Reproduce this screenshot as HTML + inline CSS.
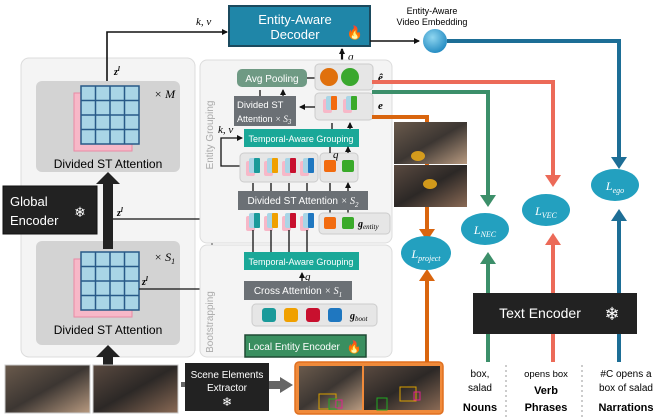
<!DOCTYPE html>
<html><head><meta charset="utf-8"><style>
html,body{margin:0;padding:0;background:#fff;}
svg{display:block;font-family:"Liberation Sans",sans-serif;}
.s{font-family:"Liberation Serif",serif;font-style:italic;}
</style></head><body>
<svg width="665" height="418" viewBox="0 0 665 418" xmlns="http://www.w3.org/2000/svg">
<defs>
<marker id="ab" markerWidth="6" markerHeight="6" refX="5" refY="3" orient="auto" markerUnits="userSpaceOnUse"><path d="M0,0 L6,3 L0,6z" fill="#111"/></marker>
<linearGradient id="img1" x1="0" y1="0" x2="1" y2="1"><stop offset="0" stop-color="#6a5a4c"/><stop offset="0.5" stop-color="#3c3632"/><stop offset="1" stop-color="#b89a80"/></linearGradient>
<linearGradient id="img2" x1="0" y1="0" x2="1" y2="1"><stop offset="0" stop-color="#5a4a40"/><stop offset="0.5" stop-color="#2c2826"/><stop offset="1" stop-color="#8a6a55"/></linearGradient>
<radialGradient id="ball" cx="0.4" cy="0.35" r="0.7"><stop offset="0" stop-color="#8fd6f0"/><stop offset="1" stop-color="#1f88c0"/></radialGradient>
<g id="grid">
<rect x="-7" y="7" width="58" height="58" fill="#f7b8c8" stroke="#e88aa5" stroke-width="1"/>
<rect x="0" y="0" width="58" height="58" fill="#a9d5e6" stroke="#285a88" stroke-width="1.5"/>
<path d="M14.5,0V58M29,0V58M43.5,0V58M0,14.5H58M0,29H58M0,43.5H58" stroke="#285a88" stroke-width="1.5"/>
</g>
</defs>

<rect x="21" y="58" width="174" height="299" rx="8" fill="#f4f4f4" stroke="#dcdcdc"/>
<rect x="36" y="81" width="144" height="91" rx="6" fill="#d3d3d3"/>
<use href="#grid" x="81" y="86"/>
<text x="154" y="98" class="s" font-size="12">× M</text>
<text x="108" y="168" font-size="12" text-anchor="middle">Divided ST Attention</text>
<rect x="36" y="241" width="144" height="104" rx="6" fill="#d3d3d3"/>
<use href="#grid" x="81" y="252"/>
<text x="154" y="261" class="s" font-size="12">× S<tspan font-size="8" dy="3">1</tspan></text>
<text x="108" y="334" font-size="12" text-anchor="middle">Divided ST Attention</text>

<rect x="3" y="186" width="94" height="48" fill="#222" stroke="#111"/>
<text x="10" y="206" font-size="13" fill="#fff">Global</text>
<text x="10" y="225" font-size="13" fill="#fff">Encoder</text>
<text x="80" y="217" font-size="14" fill="#fff" text-anchor="middle">❄</text>

<rect x="103" y="183" width="10" height="66" fill="#222"/>
<path d="M96,184 L108,172 L120,184z" fill="#222"/>
<rect x="103" y="356" width="10" height="10" fill="#222"/>
<path d="M96,357 L108,345 L120,357z" fill="#222"/>

<path d="M107,81 V32 H227" stroke="#111" stroke-width="1.6" fill="none" marker-end="url(#ab)"/>
<text x="114" y="75" class="s" font-size="10" font-weight="bold">z<tspan font-size="7" dy="-4">l</tspan></text>
<text x="196" y="25" class="s" font-size="11">k, v</text>
<path d="M113,219 H212 V262 H242" stroke="#111" stroke-width="1.3" fill="none" marker-end="url(#ab)"/>
<text x="117" y="216" class="s" font-size="10" font-weight="bold">z<tspan font-size="7" dy="-4">l</tspan></text>
<text x="217" y="259" class="s" font-size="11">k, v</text>
<path d="M139,289 H242" stroke="#111" stroke-width="1.3" fill="none" marker-end="url(#ab)"/>
<text x="142" y="285" class="s" font-size="10" font-weight="bold">z<tspan font-size="7" dy="-4">l</tspan></text>
<text x="217" y="286" class="s" font-size="11">k, v</text>

<rect x="229" y="6" width="141" height="40" fill="#1f86a8" stroke="#1b4a5e" stroke-width="2"/>
<text x="295" y="24" font-size="13" fill="#fff" text-anchor="middle">Entity-Aware</text>
<text x="295" y="39" font-size="13" fill="#fff" text-anchor="middle">Decoder</text>
<text x="355" y="37" font-size="13" fill="#f25a1a" text-anchor="middle">🔥</text>
<path d="M370,41 H419" stroke="#111" stroke-width="1.6" fill="none" marker-end="url(#ab)"/>
<path d="M342,63 V49" stroke="#111" stroke-width="2.2" marker-end="url(#ab)"/>
<text x="348" y="60" class="s" font-size="11">q</text>

<rect x="200" y="60" width="192" height="183" rx="7" fill="#f4f4f4" stroke="#dcdcdc"/>
<rect x="200" y="245" width="192" height="112" rx="7" fill="#f4f4f4" stroke="#dcdcdc"/>
<text transform="translate(213,135) rotate(-90)" font-size="10" fill="#aaa" text-anchor="middle">Entity Grouping</text>
<text transform="translate(213,322) rotate(-90)" font-size="10" fill="#aaa" text-anchor="middle">Bootstrapping</text>

<rect x="237" y="69" width="70" height="18" rx="5" fill="#6f9a84"/>
<text x="272" y="82" font-size="10" fill="#fff" text-anchor="middle">Avg Pooling</text>
<path d="M307,78 H322" stroke="#111" stroke-width="1.3" marker-end="url(#ab)"/>
<rect x="315" y="64" width="58" height="26" rx="4" fill="#e6e6e6" stroke="#ccc"/>
<circle cx="329" cy="77" r="9" fill="#e0700c"/>
<circle cx="350" cy="77" r="9" fill="#3aa82e"/>
<text x="378" y="81" class="s" font-size="11" font-weight="bold" font-style="normal">ê</text>
<rect x="315" y="93" width="58" height="27" rx="4" fill="#e6e6e6" stroke="#ccc"/>
<g><rect x="323" y="99" width="9" height="14" rx="2" fill="#f7b8c8"/><rect x="326" y="96" width="9" height="14" rx="2" fill="#a9d5e6"/><rect x="331" y="96" width="6" height="14" rx="1" fill="#f26b0f"/></g>
<g><rect x="343" y="99" width="9" height="14" rx="2" fill="#f7b8c8"/><rect x="346" y="96" width="9" height="14" rx="2" fill="#a9d5e6"/><rect x="351" y="96" width="6" height="14" rx="1" fill="#3aaa2a"/></g>
<text x="378" y="109" class="s" font-size="11" font-weight="bold" font-style="normal">e</text>
<rect x="234" y="96" width="62" height="30" fill="#6b7075"/>
<text x="237" y="108" font-size="9.5" fill="#fff">Divided ST</text>
<text x="237" y="122" font-size="9" fill="#fff">Attention <tspan class="s">× S</tspan><tspan font-size="7" dy="2" class="s">3</tspan></text>
<path d="M315,107 H300" stroke="#111" stroke-width="1.3" marker-end="url(#ab)"/>
<path d="M260,96 V90 M283,96 V90" stroke="#111" stroke-width="1.3" marker-end="url(#ab)"/>
<path d="M332,129 V123 M350,129 V123" stroke="#111" stroke-width="1.3" marker-end="url(#ab)"/>
<rect x="244" y="129" width="115" height="18" fill="#1aa898"/>
<text x="301" y="142" font-size="9" fill="#fff" text-anchor="middle">Temporal-Aware Grouping</text>
<path d="M243,166 H221 V138 H242" stroke="#111" stroke-width="1.3" fill="none" marker-end="url(#ab)"/>
<text x="218" y="133" class="s" font-size="11">k, v</text>
<rect x="240" y="153" width="78" height="29" rx="4" fill="#e6e6e6" stroke="#ccc"/>
<rect x="320" y="153" width="38" height="29" rx="4" fill="#e6e6e6" stroke="#ccc"/>
<g id="toks">
<rect x="246" y="161" width="9" height="15" rx="2" fill="#f7b8c8"/><rect x="249" y="158" width="9" height="15" rx="2" fill="#a9d5e6"/><rect x="254" y="158" width="6" height="15" rx="1" fill="#1a9a9a"/>
<rect x="264" y="161" width="9" height="15" rx="2" fill="#f7b8c8"/><rect x="267" y="158" width="9" height="15" rx="2" fill="#a9d5e6"/><rect x="272" y="158" width="6" height="15" rx="1" fill="#f0a000"/>
<rect x="282" y="161" width="9" height="15" rx="2" fill="#f7b8c8"/><rect x="285" y="158" width="9" height="15" rx="2" fill="#a9d5e6"/><rect x="290" y="158" width="6" height="15" rx="1" fill="#c8102e"/>
<rect x="300" y="161" width="9" height="15" rx="2" fill="#f7b8c8"/><rect x="303" y="158" width="9" height="15" rx="2" fill="#a9d5e6"/><rect x="308" y="158" width="6" height="15" rx="1" fill="#1f77c0"/>
</g>
<rect x="324" y="160" width="12" height="12" rx="2" fill="#f26b0f"/>
<rect x="342" y="160" width="12" height="12" rx="2" fill="#3aaa2a"/>
<path d="M330,153 V147 M348,153 V147" stroke="#111" stroke-width="1.3" marker-end="url(#ab)"/>
<text x="333" y="158" class="s" font-size="11">q</text>
<path d="M253,191 V183 M271,191 V183 M289,191 V183 M307,191 V183 M330,191 V183 M348,191 V183" stroke="#111" stroke-width="1.3" marker-end="url(#ab)"/>
<rect x="238" y="191" width="130" height="19" fill="#6b7075"/>
<text x="303" y="204" font-size="10" fill="#fff" text-anchor="middle">Divided ST Attention <tspan class="s">× S</tspan><tspan font-size="7" dy="3" class="s">2</tspan></text>
<path d="M330,210 V216 M348,210 V216" stroke="#111" stroke-width="1.3"/>
<use href="#toks" y="55"/>
<rect x="319" y="213" width="71" height="21" rx="4" fill="#e6e6e6" stroke="#ccc"/>
<rect x="324" y="217" width="12" height="12" rx="2" fill="#f26b0f"/>
<rect x="342" y="217" width="12" height="12" rx="2" fill="#3aaa2a"/>
<text x="358" y="227" class="s" font-size="10" font-weight="bold" font-style="normal">g<tspan font-size="7" dy="2" font-style="italic" font-weight="normal">entity</tspan></text>
<path d="M253,230 V252 M271,230 V252 M289,230 V252 M307,230 V252" stroke="#111" stroke-width="1.3"/>

<rect x="244" y="252" width="115" height="18" fill="#1aa898"/>
<text x="301" y="265" font-size="9" fill="#fff" text-anchor="middle">Temporal-Aware Grouping</text>
<path d="M302,282 V273" stroke="#111" stroke-width="1.3" marker-end="url(#ab)"/>
<text x="305" y="280" class="s" font-size="11">q</text>
<rect x="244" y="281" width="108" height="19" fill="#6b7075"/>
<text x="298" y="294" font-size="10" fill="#fff" text-anchor="middle">Cross Attention <tspan class="s">× S</tspan><tspan font-size="7" dy="3" class="s">1</tspan></text>
<rect x="252" y="304" width="125" height="22" rx="4" fill="#e6e6e6" stroke="#ccc"/>
<rect x="262" y="308" width="14" height="14" rx="3" fill="#1a9a9a"/>
<rect x="284" y="308" width="14" height="14" rx="3" fill="#f0a000"/>
<rect x="306" y="308" width="14" height="14" rx="3" fill="#c8102e"/>
<rect x="328" y="308" width="14" height="14" rx="3" fill="#1f77c0"/>
<text x="350" y="319" class="s" font-size="10" font-weight="bold" font-style="normal">g<tspan font-size="7" dy="2" font-style="italic" font-weight="normal">boot</tspan></text>
<rect x="245" y="335" width="121" height="22" fill="#3a8f60" stroke="#1f4a34" stroke-width="1.5"/>
<text x="294" y="350" font-size="10" fill="#fff" text-anchor="middle">Local Entity Encoder</text>
<text x="354" y="351" font-size="12" text-anchor="middle">🔥</text>

<rect x="5" y="365" width="85" height="48" fill="url(#img1)" stroke="#ccc"/>
<rect x="93" y="365" width="85" height="48" fill="url(#img2)" stroke="#ccc"/>
<rect x="181" y="382" width="6" height="5" fill="#666"/>
<rect x="185" y="363" width="84" height="48" fill="#222"/>
<text x="227" y="378" font-size="10" fill="#fff" text-anchor="middle">Scene Elements</text>
<text x="227" y="391" font-size="10" fill="#fff" text-anchor="middle">Extractor</text>
<text x="227" y="406" font-size="12" fill="#fff" text-anchor="middle">❄</text>
<rect x="269" y="381" width="12" height="8" fill="#666"/>
<path d="M280,377 L293,385 L280,393z" fill="#666"/>
<rect x="295" y="362" width="148" height="52" rx="4" fill="#f08a3a" stroke="#e07020" stroke-width="1.5"/>
<rect x="299" y="366" width="63" height="44" fill="url(#img1)"/>
<rect x="364" y="366" width="76" height="44" fill="url(#img2)"/>
<rect x="319" y="394" width="17" height="15" fill="none" stroke="#d9a000"/>
<rect x="329" y="399" width="8" height="10" fill="none" stroke="#2a2"/>
<rect x="336" y="400" width="6" height="8" fill="none" stroke="#e0208f"/>
<rect x="400" y="387" width="16" height="14" fill="none" stroke="#d9a000"/>
<rect x="377" y="398" width="10" height="12" fill="none" stroke="#2a2"/>
<rect x="414" y="392" width="6" height="8" fill="none" stroke="#e0208f"/>

<text x="432" y="14" font-size="9" text-anchor="middle">Entity-Aware</text>
<text x="432" y="25" font-size="9" text-anchor="middle">Video Embedding</text>
<circle cx="435" cy="41" r="12" fill="url(#ball)"/>

<g fill="none" stroke-width="4">
<path d="M447,41 H619 V160" stroke="#1d6e96"/>
<path d="M372,82 H553 V176" stroke="#ec6a58"/>
<path d="M372,92 H488 V196" stroke="#3c8f6a"/>
<path d="M372,117 H427 V230" stroke="#d9650e"/>
<path d="M427,362 V280" stroke="#d9650e"/>
<path d="M619,293 V220" stroke="#1d6e96"/>
<path d="M553,293 V245" stroke="#ec6a58"/>
<path d="M488,293 V264" stroke="#3c8f6a"/>
<path d="M488,334 V362" stroke="#3c8f6a"/>
<path d="M553,334 V362" stroke="#ec6a58"/>
<path d="M619,334 V362" stroke="#1d6e96"/>
</g>

<rect x="394" y="122" width="73" height="42" fill="url(#img1)"/>
<rect x="394" y="165" width="73" height="42" fill="url(#img2)"/>
<ellipse cx="418" cy="156" rx="7" ry="5" fill="#e3a51a" opacity="0.9"/>
<ellipse cx="430" cy="184" rx="7" ry="5" fill="#e3a51a" opacity="0.9"/>

<path d="M611,157 L627,157 L619,169z" fill="#1d6e96"/>
<path d="M545,175 L561,175 L553,187z" fill="#ec6a58"/>
<path d="M480,195 L496,195 L488,207z" fill="#3c8f6a"/>
<path d="M419,229 L435,229 L427,241z" fill="#d9650e"/>
<path d="M419,281 L435,281 L427,269z" fill="#d9650e"/>
<path d="M611,221 L627,221 L619,209z" fill="#1d6e96"/>
<path d="M545,245 L561,245 L553,233z" fill="#ec6a58"/>
<path d="M480,264 L496,264 L488,252z" fill="#3c8f6a"/>

<ellipse cx="615" cy="185" rx="24" ry="16" fill="#23a0bf"/>
<text x="615" y="190" class="s" font-size="12" fill="#fff" text-anchor="middle">L<tspan font-size="8" dy="3">ego</tspan></text>
<ellipse cx="546" cy="210" rx="24" ry="16" fill="#23a0bf"/>
<text x="546" y="215" class="s" font-size="12" fill="#fff" text-anchor="middle">L<tspan font-size="8" dy="3">VEC</tspan></text>
<ellipse cx="485" cy="229" rx="24" ry="16" fill="#23a0bf"/>
<text x="485" y="234" class="s" font-size="12" fill="#fff" text-anchor="middle">L<tspan font-size="8" dy="3">NEC</tspan></text>
<ellipse cx="426" cy="253" rx="25" ry="17" fill="#23a0bf"/>
<text x="426" y="258" class="s" font-size="12" fill="#fff" text-anchor="middle">L<tspan font-size="8" dy="3">project</tspan></text>

<rect x="473" y="293" width="164" height="41" fill="#222"/>
<text x="540" y="318" font-size="14" fill="#fff" text-anchor="middle">Text Encoder</text>
<text x="612" y="320" font-size="18" fill="#fff" text-anchor="middle">❄</text>

<path d="M506,365 V418 M582,365 V418" stroke="#999" stroke-dasharray="2,3"/>
<text x="480" y="377" font-size="10" text-anchor="middle">box,</text>
<text x="480" y="391" font-size="10" text-anchor="middle">salad</text>
<text x="480" y="411" font-size="11" font-weight="bold" text-anchor="middle">Nouns</text>
<text x="546" y="377" font-size="9.5" text-anchor="middle">opens box</text>
<text x="546" y="394" font-size="11" font-weight="bold" text-anchor="middle">Verb</text>
<text x="546" y="411" font-size="11" font-weight="bold" text-anchor="middle">Phrases</text>
<text x="626" y="377" font-size="10" text-anchor="middle">#C opens a</text>
<text x="626" y="391" font-size="10" text-anchor="middle">box of salad</text>
<text x="626" y="411" font-size="11" font-weight="bold" text-anchor="middle">Narrations</text>
</svg>
</body></html>
